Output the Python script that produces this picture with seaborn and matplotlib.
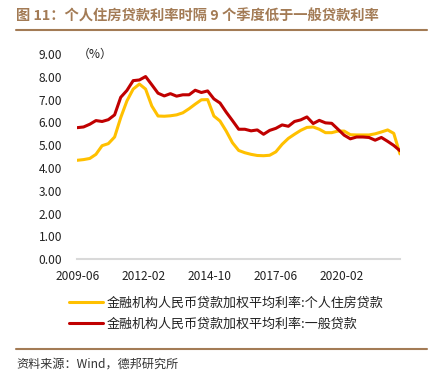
import pandas as pd
import numpy as np
import matplotlib
matplotlib.use('Agg')
import matplotlib.pyplot as plt
import seaborn as sns

sns.set_theme(style='white')
plt.rcParams['font.family'] = ['Noto Sans CJK SC', 'DejaVu Sans']

# quarterly, 2009Q2 .. 2022Q2
dates = pd.date_range('2009-06-30', '2022-06-30', freq='QE')

housing = [4.34, 4.37, 4.42, 4.60, 4.98, 5.07, 5.36, 6.21, 6.94, 7.46,
           7.68, 7.46, 6.72, 6.28, 6.27, 6.29, 6.33, 6.42, 6.60, 6.80,
           6.99, 7.00, 6.28, 6.06, 5.62, 5.11, 4.77, 4.67, 4.60, 4.55,
           4.54, 4.56, 4.71, 5.04, 5.30, 5.48, 5.65, 5.78, 5.80, 5.70,
           5.55, 5.55, 5.62, 5.62, 5.46, 5.45, 5.45, 5.45, 5.50, 5.58,
           5.67, 5.52, 4.62]
general = [5.77, 5.80, 5.92, 6.08, 6.04, 6.12, 6.33, 7.10, 7.40, 7.83,
           7.86, 8.01, 7.65, 7.28, 7.16, 7.26, 7.15, 7.21, 7.21, 7.41,
           7.31, 7.38, 7.03, 6.85, 6.45, 6.08, 5.70, 5.70, 5.63, 5.67,
           5.48, 5.65, 5.74, 5.89, 5.83, 6.04, 6.11, 6.24, 5.95, 6.09,
           5.98, 5.96, 5.70, 5.44, 5.28, 5.36, 5.36, 5.34, 5.22, 5.34,
           5.17, 4.99, 4.76]

name_h = '金融机构人民币贷款加权平均利率:个人住房贷款'
name_g = '金融机构人民币贷款加权平均利率:一般贷款'
tick_dates = pd.to_datetime(['2009-06-30', '2012-02-29', '2014-10-31',
                             '2017-06-30', '2020-02-29'])
tick_labels = ['2009-06', '2012-02', '2014-10', '2017-06', '2020-02']
yticks = np.arange(0, 10, 1)

df = pd.DataFrame({'date': list(dates) * 2,
                   'value': housing + general,
                   'series': [name_h] * len(dates) + [name_g] * len(dates)})

brown = '#A37B55'
fig = plt.figure(figsize=(4.36, 3.81), dpi=100)
ax = fig.add_axes([0.1773, 0.3194, 0.740, 0.539])

sns.lineplot(data=df, x='date', y='value', hue='series',
             palette={name_h: '#FFC000', name_g: '#C00000'},
             linewidth=2.2, ax=ax, legend=False)

ax.set_xlim(dates[0], dates[-1])
ax.set_ylim(0, 9)
ax.set_xticks(tick_dates)
ax.set_xticklabels(tick_labels)
ax.set_yticks(yticks)
ax.set_yticklabels(['%.2f' % v for v in yticks])
ax.set_xlabel('')
ax.set_ylabel('')
ax.tick_params(axis='both', length=0, labelsize=8.6, colors='#222222')
ax.tick_params(axis='x', pad=8)
ax.tick_params(axis='y', pad=11)
for s in ['top', 'right', 'left']:
    ax.spines[s].set_visible(False)
ax.spines['bottom'].set_color('#D9D9D9')
ax.spines['bottom'].set_linewidth(1.5)
ax.grid(False)

fig.text(78 / 436, 1 - 54 / 381, '（%）', fontsize=8.6, color='#222222', va='center')

# legend
lines = ax.get_lines()
leg = fig.legend(lines[:2], [name_h, name_g], loc='upper left',
                 bbox_to_anchor=(57 / 436, 1 - 285 / 381), frameon=False,
                 fontsize=9.4, handlelength=2.6, handletextpad=0.3,
                 labelspacing=0.6, labelcolor='#222222')

# title and rules
fig.text(16 / 436, 1 - 17 / 381, '图 11：个人住房贷款利率时隔 9 个季度低于一般贷款利率',
         fontsize=10.3, fontweight='bold', color=brown, va='center')
fig.add_artist(plt.Line2D([16 / 436, 427 / 436], [1 - 29.5 / 381] * 2,
                          color=brown, linewidth=1.5))
fig.add_artist(plt.Line2D([16 / 436, 427 / 436], [1 - 348.5 / 381] * 2,
                          color=brown, linewidth=1.5))
fig.text(16 / 436, 1 - 364 / 381, '资料来源：Wind，德邦研究所',
         fontsize=8.7, color='#333333', va='center')

fig.savefig('out.png', dpi=100)
